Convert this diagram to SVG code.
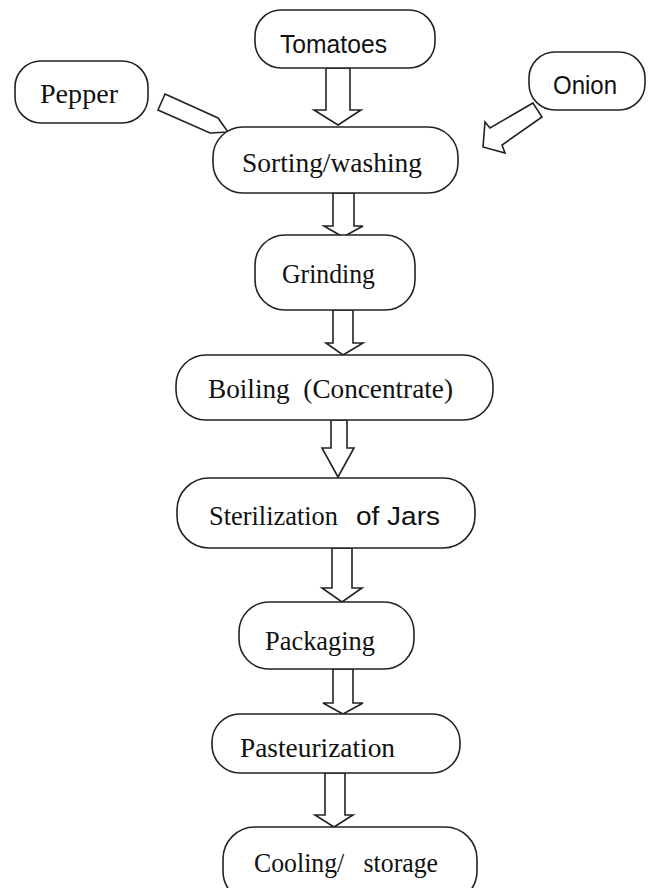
<svg xmlns="http://www.w3.org/2000/svg" width="651" height="888" viewBox="0 0 651 888">
<style>
.box{fill:#fff;stroke:#222;stroke-width:1.6}
.arr{fill:#fff;stroke:#222;stroke-width:1.6;stroke-linejoin:miter}
.t{font-family:"Liberation Serif","Times New Roman",serif;font-size:28px;fill:#111;white-space:pre}
.s{font-family:"Liberation Sans",Arial,sans-serif;font-size:25px;fill:#111}
</style>
<rect width="651" height="888" fill="#fff"/>
<g id="connectors">
<polygon class="arr" points="326,68 350,68 350,110 361,110 338,125 314,110 326,110"/>
<polygon class="arr" points="165,94 218,118 228,132 210,133 158,110"/>
<polygon class="arr" points="533,103 490,128 485,122 483,147 505,153 502,145 542,117"/>
<polygon class="arr" points="333,193 354,193 354,226 363,226 343,237 324,226 333,226"/>
<polygon class="arr" points="333,310 353,310 353,343 363,343 343,355 326,343 333,343"/>
<polygon class="arr" points="331,420 347,420 347,448 354,448 338,477 322,448 331,448"/>
<polygon class="arr" points="332,548 352,548 352,588 362,588 342,602 322,588 332,588"/>
<polygon class="arr" points="333,669 353,669 353,703 363,703 343,714 323,703 333,703"/>
<polygon class="arr" points="325,773 345,773 345,815 353,815 334,827 315,815 325,815"/>
</g>
<g id="tomatoes"><rect class="box" x="255" y="10" width="180" height="58" rx="26" ry="26"/><text class="s" x="280" y="53" textLength="107" lengthAdjust="spacingAndGlyphs">Tomatoes</text></g>
<g id="pepper"><rect class="box" x="15" y="61" width="133" height="62" rx="26" ry="26"/><text class="t" x="40" y="103" textLength="78" lengthAdjust="spacingAndGlyphs">Pepper</text></g>
<g id="onion"><rect class="box" x="529" y="52" width="116" height="58" rx="26" ry="26"/><text class="s" x="553" y="94" textLength="64" lengthAdjust="spacingAndGlyphs">Onion</text></g>
<g id="sorting"><rect class="box" x="213" y="127" width="245" height="66" rx="30" ry="30"/><text class="t" x="242" y="172" textLength="180" lengthAdjust="spacingAndGlyphs">Sorting/washing</text></g>
<g id="grinding"><rect class="box" x="255" y="235" width="160" height="75" rx="30" ry="30"/><text class="t" x="282" y="283" textLength="93" lengthAdjust="spacingAndGlyphs">Grinding</text></g>
<g id="boiling"><rect class="box" x="176" y="355" width="317" height="65" rx="30" ry="30"/><text class="t" x="208" y="398" textLength="245" lengthAdjust="spacingAndGlyphs">Boiling  (Concentrate)</text></g>
<g id="sterilization"><rect class="box" x="177" y="478" width="298" height="70" rx="32" ry="32"/><text class="t" x="209" y="525" textLength="129" lengthAdjust="spacingAndGlyphs">Sterilization</text><text class="s" x="356" y="525" font-size="27" textLength="84" lengthAdjust="spacingAndGlyphs">of Jars</text></g>
<g id="packaging"><rect class="box" x="239" y="602" width="175" height="67" rx="30" ry="30"/><text class="t" x="265" y="650" textLength="110" lengthAdjust="spacingAndGlyphs">Packaging</text></g>
<g id="pasteurization"><rect class="box" x="212" y="714" width="248" height="59" rx="28" ry="28"/><text class="t" x="240" y="757" textLength="155" lengthAdjust="spacingAndGlyphs">Pasteurization</text></g>
<g id="cooling"><rect class="box" x="223" y="827" width="254" height="76" rx="32" ry="32"/><text class="t" x="254" y="872" textLength="184" lengthAdjust="spacingAndGlyphs">Cooling/   storage</text></g>
</svg>
